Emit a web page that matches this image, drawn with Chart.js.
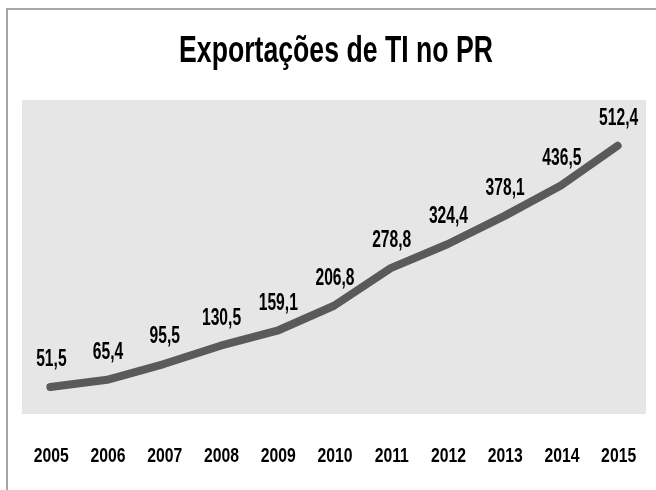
<!DOCTYPE html>
<html>
<head>
<meta charset="utf-8">
<script src="https://cdn.jsdelivr.net/npm/chart.js@4"></script>
<style>
  html, body { margin: 0; padding: 0; background: #fff; overflow: hidden; }
  #wrap { position: relative; width: 656px; height: 490px; }
  #myChart { display: block; }
  #frame { position: absolute; left: 6px; top: 8px; right: 0; bottom: 0; border-top: 2px solid #a6a6a6; border-left: 2px solid #a6a6a6; pointer-events: none; }
</style>
</head>
<body>
<div id="wrap">
  <canvas id="myChart" width="656" height="490"></canvas>
  <div id="frame"></div>
</div>
<script>
document.addEventListener('DOMContentLoaded', () => {
  // Dados do gráfico
  const anos = ['2005', '2006', '2007', '2008', '2009', '2010', '2011', '2012', '2013', '2014', '2015'];
  const exportacoes = [51.5, 65.4, 95.5, 130.5, 159.1, 206.8, 278.8, 324.4, 378.1, 436.5, 512.4];
  const titulo = 'Exportações de TI no PR';

  const fonte = "'Liberation Sans', Arial, sans-serif";

  // Texto em negrito "estreito" (Arial Narrow simulada com escala horizontal)
  const textoEstreito = (ctx, str, x, y, size, sx) => {
    ctx.save();
    ctx.translate(x, y);
    ctx.scale(sx, 1);
    ctx.font = 'bold ' + size + 'px ' + fonte;
    ctx.fillStyle = '#000';
    ctx.textAlign = 'center';
    ctx.textBaseline = 'alphabetic';
    ctx.fillText(str, 0, 0);
    ctx.restore();
  };

  // Fundo cinza da área do gráfico
  const fundoArea = {
    id: 'fundoArea',
    beforeDraw(chart) {
      const { ctx, chartArea: a } = chart;
      ctx.save();
      ctx.fillStyle = '#e6e6e6';
      ctx.fillRect(a.left, a.top, a.right - a.left, a.bottom - a.top);
      ctx.restore();
    }
  };

  // Título, rótulos de dados e rótulos do eixo X
  const textos = {
    id: 'textos',
    afterDatasetsDraw(chart) {
      const { ctx } = chart;
      textoEstreito(ctx, titulo, 336, 62, 37, 0.72);

      const meta = chart.getDatasetMeta(0);
      meta.data.forEach((pt, i) => {
        const txt = exportacoes[i].toFixed(1).replace('.', ',');
        textoEstreito(ctx, txt, pt.x + 1, pt.y - 21, 23, 0.68);
      });

      const xScale = chart.scales.x;
      anos.forEach((ano, i) => {
        textoEstreito(ctx, ano, xScale.getPixelForTick(i) + 1, 462, 21, 0.75);
      });
    }
  };

  const ctx = document.getElementById('myChart').getContext('2d');
  new Chart(ctx, {
    type: 'line',
    data: {
      labels: anos,
      datasets: [{
        data: exportacoes,
        borderColor: '#5a5a5a',
        borderWidth: 8,
        borderCapStyle: 'round',
        borderJoinStyle: 'round',
        pointRadius: 0,
        tension: 0,
        fill: false
      }]
    },
    options: {
      responsive: false,
      animation: false,
      layout: { padding: { left: 22, right: 10, top: 100, bottom: 76 } },
      plugins: {
        legend: { display: false },
        tooltip: { enabled: false },
        title: { display: false }
      },
      scales: {
        x: {
          offset: true,
          grid: { display: false, drawTicks: false },
          border: { display: false },
          ticks: { display: false }
        },
        y: {
          display: false,
          min: 0,
          max: 600
        }
      }
    },
    plugins: [fundoArea, textos]
  });
});
</script>
</body>
</html>
